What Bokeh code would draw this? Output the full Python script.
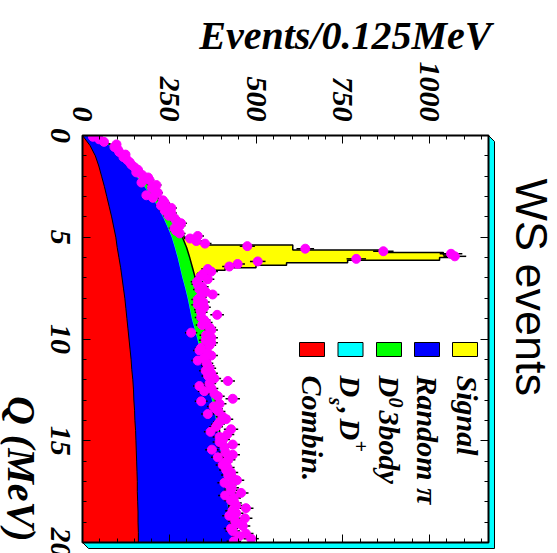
import math
import numpy as np
from bokeh.plotting import figure
from bokeh.models import Range1d, LinearAxis, FixedTicker, Label
from bokeh.core.properties import value
from bokeh.embed import file_html
from bokeh.resources import INLINE

# ---------------- data ----------------
BIN_WIDTH = 0.125  # MeV per bin
Q_MAX = 20.0
EV_MAX = 1170.0

ev_ticks = [0, 250, 500, 750, 1000]
ev_tick_labels = ["0", "250", "500", "750", "1000"]
q_ticks = [0, 5, 10, 15, 20]
q_tick_labels = ["0", "5", "10", "15", "20"]

# smooth fit components, sampled every 0.5 MeV (Q in MeV, counts per bin)
q_knots = [0.0, 0.5, 1.0, 1.5, 2.0, 2.5, 3.0, 3.5, 4.0, 4.5, 5.0, 5.5, 6.0, 6.5,
           7.0, 7.5, 8.0, 8.5, 9.0, 9.5, 10.0, 10.5, 11.0, 11.5, 12.0, 12.5, 13.0,
           13.5, 14.0, 14.5, 15.0, 15.5, 16.0, 16.5, 17.0, 17.5, 18.0, 18.5, 19.0,
           19.5, 20.0]
combin = [0, 22, 37, 47, 55, 63, 70, 77, 84, 90, 96, 100, 105, 110, 114, 118, 122,
          125, 128, 131, 134, 137, 140, 142, 145, 147, 148, 150, 151, 153, 154, 155,
          156, 157, 158, 158, 159, 160, 160, 161, 161]
random_pi = [10, 58, 71, 83, 100, 115, 129, 140, 148, 155, 161, 166, 169, 171, 174,
             178, 181, 184, 187, 192, 197, 201, 205, 209, 213, 219, 225, 229, 234,
             237, 240, 243, 245, 248, 251, 255, 258, 261, 265, 268, 272]
ds_dplus = [0, 1, 1, 1, 1, 1, 1, 1, 1, 1, 1, 1, 1, 1, 1, 1, 1, 1, 1, 1, 1, 1, 1, 1,
            1, 1, 1, 1, 1, 1, 1, 1, 1, 1, 1, 1, 1, 1, 1, 1, 1]
d0_3body = [5, 11, 14, 15, 13, 14, 15, 17, 22, 26, 30, 33, 34, 35, 36, 35, 34, 34,
            33, 30, 27, 24, 21, 19, 16, 12, 9, 7, 5, 4, 3, 3, 3, 3, 2, 2, 2, 2, 2, 2, 2]

# signal histogram: stacked top (signal + background), bins 39..65
signal_first_bin = 39
signal_top = [292, 310, 335, 362, 606, 606, 862, 1040, 1073, 1029, 764, 588, 500,
              411, 345, 333, 332, 333, 334, 336, 338, 340, 341, 342, 343, 344, 345]

# data: events per 0.125 MeV bin, 160 bins from 0 to 20 MeV
data_counts = [
    30, 48, 62, 98, 92, 102, 106, 124, 118, 128, 136, 141, 150, 160, 155, 172,
    189, 193, 170, 213, 200, 208, 217, 184, 203, 232, 237, 226, 256, 237, 256, 248,
    265, 270, 284, 280, 265, 270, 280, 332, 310, 328, 353, 475, 642, 867, 1062, 1073,
    789, 505, 447, 423, 361, 371, 347, 340, 361, 330, 332, 345, 337, 355, 375, 340,
    332, 348, 332, 351, 340, 342, 388, 342, 350, 356, 345, 366, 371, 313, 356, 371,
    355, 371, 366, 342, 337, 360, 371, 350, 332, 358, 361, 366, 355, 371, 362, 380,
    419, 366, 337, 372, 351, 380, 390, 433, 342, 395, 378, 385, 392, 361, 404, 414,
    396, 390, 385, 428, 369, 417, 395, 405, 395, 433, 409, 373, 412, 433, 390, 420,
    411, 404, 418, 414, 428, 420, 432, 445, 409, 423, 430, 428, 457, 411, 436, 428,
    438, 443, 471, 432, 443, 423, 468, 440, 447, 462, 428, 433, 471, 452, 486, 436]

legend_labels = ["Combin.", "Ds , D+", "D0 3body", "Random \u03c0", "Signal"]
legend_colors = ["#ff0000", "#00ffff", "#00ff00", "#0000ff", "#ffff00"]

x_title = "Events/0.125MeV"
y_title = "Q (MeV)"
side_title = "WS events"

# ---------------- layout helpers (pixel -> data) ----------------
W, H = 557, 553
FX0, FX1 = 82, 488      # plot box left / right (px)
FY0, FY1 = 135, 542     # plot box top / bottom (px)
SH = 6                  # 3D shadow depth (px)


def ex(px):
    return (px - FX0) * EV_MAX / (FX1 - FX0)


def qy(py):
    return (py - FY0) * Q_MAX / (FY1 - FY0)


SERIF = "Liberation Serif"
ROT = -math.pi / 2   # text read from top to bottom

# the frame covers the whole page; the plot box is drawn inside it
p = figure(width=W, height=H, output_backend="svg", toolbar_location=None,
           x_range=Range1d(ex(0), ex(W)), y_range=Range1d(qy(H), qy(0)),
           x_axis_location=None, y_axis_location=None,
           min_border=0, min_border_left=0, min_border_right=0,
           min_border_top=0, min_border_bottom=0)
p.background_fill_color = "white"
p.border_fill_color = "white"
p.outline_line_color = None
p.grid.visible = False

ev_minor = [v for v in range(50, int(EV_MAX), 50) if v % 250]
q_minor = [v for v in range(1, int(Q_MAX)) if v % 5]

# four tick axes fixed on the plot-box edges, ticks pointing inwards
for side, ticks, minor, loc in (("above", ev_ticks, ev_minor, 0.0),
                                ("below", ev_ticks, ev_minor, Q_MAX),
                                ("left", q_ticks, q_minor, 0.0),
                                ("right", q_ticks, q_minor, EV_MAX)):
    ax = LinearAxis(ticker=FixedTicker(ticks=ticks, minor_ticks=minor),
                    fixed_location=loc, axis_line_color=None,
                    major_tick_in=8, major_tick_out=0, minor_tick_in=4,
                    minor_tick_out=0, major_tick_line_width=1,
                    minor_tick_line_width=1, major_label_standoff=0,
                    major_label_text_font_size="0px",
                    major_label_overrides={t: "" for t in ticks})
    p.add_layout(ax, side)

# ---------------- stacked fit components ----------------
q = np.array(q_knots)
s1 = np.array(combin, dtype=float)
s2 = s1 + np.array(random_pi)
s3 = s2 + np.array(ds_dplus)
s4 = s3 + np.array(d0_3body)

n_sig = len(signal_top)
lo = (signal_first_bin + np.arange(n_sig)) * BIN_WIDTH
sig_y = np.column_stack([lo, lo + BIN_WIDTH]).ravel()
sig_x = np.repeat(np.array(signal_top, dtype=float), 2)

p.harea(y=sig_y, x1=0, x2=sig_x, fill_color="#ffff00")
p.harea(y=q, x1=0, x2=s4, fill_color="#00ff00")
p.harea(y=q, x1=0, x2=s3, fill_color="#00ffff")
p.harea(y=q, x1=0, x2=s2, fill_color="#0000ff")
p.harea(y=q, x1=0, x2=s1, fill_color="#ff0000")
p.line(x=sig_x, y=sig_y, line_color="black", line_width=1.5)
p.line(x=s4, y=q, line_color="black", line_width=1.5)
p.line(x=s1, y=q, line_color="black", line_width=1)

# ---------------- data points with errors ----------------
counts = np.array(data_counts, dtype=float)
qc = (np.arange(len(counts)) + 0.5) * BIN_WIDTH
err = np.sqrt(counts)
p.segment(x0=counts - err, x1=counts + err, y0=qc, y1=qc, line_color="black",
          line_width=1.5)
p.scatter(x=counts, y=qc, size=9, fill_color="#ff00ff", line_color="#ff00ff")

# mask above the plot box (keeps markers inside the box, like the frame clip)
p.quad(left=ex(FX0 - 1), right=ex(FX1 + 1), top=qy(FY0 - 12), bottom=qy(FY0),
       fill_color="white", line_color=None)

# cyan 3D frame shadow (right and bottom) and the plot box
sx = [FX1, FX1 + SH, FX1 + SH, FX0 + SH, FX0, FX1]
sy = [FY0, FY0 + SH, FY1 + SH, FY1 + SH, FY1, FY1]
p.patch(x=[ex(v) for v in sx], y=[qy(v) for v in sy], fill_color="#00ffff",
        line_color="black", line_width=1)
p.quad(left=0, right=EV_MAX, top=0, bottom=Q_MAX, fill_color=None,
       line_color="black", line_width=2)

# ---------------- tick labels ----------------
txt = dict(text_font=value(SERIF), text_font_style="bold italic",
           text_color="black", angle=ROT)
p.text(x=ev_ticks, y=[qy(121)] * len(ev_ticks), text=ev_tick_labels,
       text_align="right", text_baseline="middle", text_font_size="30px", **txt)
p.text(x=[ex(60)] * len(q_ticks), y=q_ticks, text=q_tick_labels,
       text_align="center", text_baseline="middle", text_font_size="30px", **txt)

# ---------------- legend (rotated) ----------------
box_left = [299, 337.5, 376, 414, 452]
for bl, col in zip(box_left, legend_colors):
    p.quad(left=ex(bl), right=ex(bl + 25), top=qy(342), bottom=qy(356),
           fill_color=col, line_color="black", line_width=1)


def rlabel(cx, py, text, size, align="left", font=SERIF, style="bold italic"):
    # cx: horizontal centre of the rotated glyphs (px); py: start/end of text (px)
    p.add_layout(Label(x=ex(cx), y=qy(py), text=text, angle=ROT,
                       text_align=align, text_baseline="middle",
                       text_font=font, text_font_style=style,
                       text_font_size=f"{size}px", text_color="black"))


bc = [b + 12.5 for b in box_left]
rlabel(bc[0], 375, legend_labels[0], 30)
# D_s , D^+
rlabel(bc[1], 375, "D", 30)
rlabel(bc[1] - 15, 397, "s", 20)
rlabel(bc[1], 407, ",", 30)
rlabel(bc[1], 418, "D", 30)
rlabel(bc[1] + 10, 440, "+", 20)
# D^0 3body
rlabel(bc[2], 375, "D", 30)
rlabel(bc[2] + 7, 397, "0", 20)
rlabel(bc[2], 410, "3body", 30)
rlabel(bc[3], 375, legend_labels[3], 30)
rlabel(bc[4] + 2, 375, legend_labels[4], 30)

# titles
p.add_layout(Label(x=ex(491), y=qy(35), text=x_title, text_align="right",
                   text_baseline="middle", text_font=SERIF, text_color="black",
                   text_font_style="bold italic", text_font_size="40px"))
rlabel(21, 541, y_title, 40, align="right")
rlabel(531, 178, side_title, 45, font="Liberation Sans", style="normal")

open("out.html", "w").write(file_html(p, INLINE))
